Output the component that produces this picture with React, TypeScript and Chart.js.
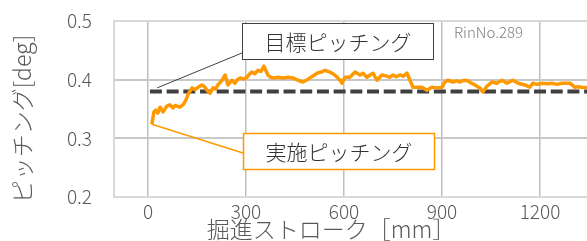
import React, { useEffect, useRef } from "react";
import { Chart, registerables } from "chart.js";

Chart.register(...registerables);

// ---- data ----
const strokeMm = [
  12, 18, 24, 30, 37, 46, 52, 58, 67, 77, 83, 89, 98, 107, 116, 122, 128, 135, 144, 153, 165,
  173, 181, 190, 199, 207, 214, 227, 236, 245, 257, 266, 274, 282, 292, 303, 310, 318, 327,
  337, 346, 355, 367, 375, 383, 398, 413, 429, 444, 459, 474, 485, 496, 507, 517, 530, 542,
  557, 572, 588, 594, 603, 618, 634, 649, 658, 670, 680, 689, 701, 716, 731, 740, 750, 760,
  771, 782, 793, 802, 811, 823, 839, 854, 869, 885, 900, 909, 918, 934, 945, 955, 967, 979,
  990, 1001, 1016, 1025, 1038, 1053, 1068, 1084, 1099, 1117, 1133, 1154, 1169, 1178, 1192,
  1206, 1222, 1237, 1252, 1267, 1292, 1307, 1318, 1328, 1344, 1360,
];
const actualPitch = [
  0.324, 0.345, 0.348, 0.343, 0.353, 0.345, 0.350, 0.355, 0.357, 0.352, 0.356, 0.355, 0.353,
  0.357, 0.365, 0.374, 0.380, 0.386, 0.383, 0.387, 0.391, 0.388, 0.382, 0.377, 0.386, 0.384,
  0.391, 0.399, 0.408, 0.391, 0.399, 0.394, 0.400, 0.403, 0.401, 0.404, 0.409, 0.413, 0.410,
  0.416, 0.414, 0.423, 0.408, 0.404, 0.403, 0.404, 0.403, 0.404, 0.403, 0.399, 0.396, 0.399,
  0.403, 0.407, 0.411, 0.413, 0.416, 0.413, 0.408, 0.399, 0.394, 0.404, 0.404, 0.413, 0.408,
  0.411, 0.404, 0.408, 0.411, 0.399, 0.408, 0.406, 0.404, 0.408, 0.405, 0.408, 0.406, 0.411,
  0.399, 0.387, 0.387, 0.387, 0.382, 0.387, 0.386, 0.387, 0.396, 0.399, 0.396, 0.398, 0.396,
  0.399, 0.398, 0.394, 0.391, 0.386, 0.379, 0.389, 0.396, 0.394, 0.399, 0.394, 0.399, 0.394,
  0.391, 0.387, 0.394, 0.392, 0.394, 0.393, 0.394, 0.392, 0.394, 0.394, 0.387, 0.388, 0.387,
  0.386, 0.385,
];
const targetStroke = [6, 1400];
const targetPitch = [0.38, 0.38];
const xTicks = [0, 300, 600, 900, 1200];
const yTicks = [0.2, 0.3, 0.4, 0.5];

const xTitle = "掘進ストローク［mm］";
const yTitle = "ピッチング[deg]";
const targetLabel = "目標ピッチング";
const actualLabel = "実施ピッチング";
const ringLabel = "RinNo.289";
const targetCallout = { x: 28, y: 0.386 };

const FONT = "'Noto Sans CJK JP', 'Noto Sans', sans-serif";
const ORANGE = "#FF9900";

const calloutPlugin = {
  id: "callouts",
  afterDatasetsDraw(chart: any) {
    const { ctx, scales } = chart;
    const xs = scales.x;
    const ys = scales.y;
    ctx.save();

    // target callout line + box
    const tx = xs.getPixelForValue(targetCallout.x);
    const ty = ys.getPixelForValue(targetCallout.y);
    ctx.strokeStyle = "#404040";
    ctx.lineWidth = 1;
    ctx.beginPath();
    ctx.moveTo(242, 53);
    ctx.lineTo(tx, ty);
    ctx.stroke();
    ctx.fillStyle = "#ffffff";
    ctx.fillRect(242, 23, 191, 36);
    ctx.strokeRect(242.5, 23.5, 191, 36);
    ctx.fillStyle = "#333333";
    ctx.font = `300 21px ${FONT}`;
    ctx.textAlign = "center";
    ctx.textBaseline = "middle";
    ctx.fillText(targetLabel, 338, 42);

    // actual callout line + box
    const ax = xs.getPixelForValue(strokeMm[0]);
    const ay = ys.getPixelForValue(actualPitch[0]);
    ctx.strokeStyle = ORANGE;
    ctx.lineWidth = 1.5;
    ctx.beginPath();
    ctx.moveTo(243, 153);
    ctx.lineTo(ax, ay);
    ctx.stroke();
    ctx.fillStyle = "#ffffff";
    ctx.fillRect(243, 133, 191, 36);
    ctx.strokeRect(243.5, 133.5, 191, 36);
    ctx.fillStyle = "#333333";
    ctx.fillText(actualLabel, 339, 152);

    // ring number
    ctx.fillStyle = "#808080";
    ctx.font = `300 15px ${FONT}`;
    ctx.textAlign = "left";
    ctx.fillText(ringLabel, 454, 32);

    // axis titles
    ctx.fillStyle = "#595959";
    ctx.font = `300 23px ${FONT}`;
    ctx.textAlign = "center";
    ctx.fillText(xTitle, 331, 229);
    ctx.save();
    ctx.translate(22, 119);
    ctx.rotate(-Math.PI / 2);
    ctx.fillText(yTitle, 0, 0);
    ctx.restore();

    ctx.restore();
  },
};

export default function App() {
  const ref = useRef<HTMLCanvasElement>(null);
  useEffect(() => {
    Chart.defaults.font.family = FONT;
    const chart = new Chart(ref.current!, {
      type: "line",
      data: {
        datasets: [
          {
            label: actualLabel,
            data: strokeMm.map((x, i) => ({ x, y: actualPitch[i] })),
            borderColor: ORANGE,
            borderWidth: 3.5,
            pointRadius: 0,
            borderJoinStyle: "round",
            tension: 0,
          },
          {
            label: targetLabel,
            data: targetStroke.map((x, i) => ({ x, y: targetPitch[i] })),
            borderColor: "#404040",
            borderWidth: 4,
            borderDash: [12, 4.7],
            pointRadius: 0,
          },
        ],
      },
      options: {
        responsive: false,
        animation: false,
        layout: { padding: { top: 21, left: 0, right: 0, bottom: 0 } },
        plugins: { legend: { display: false }, tooltip: { enabled: false } },
        scales: {
          x: {
            type: "linear",
            min: -104,
            max: 1344,
            afterBuildTicks: (s: any) => {
              s.ticks = xTicks.map((v) => ({ value: v }));
            },
            afterFit: (s: any) => {
              s.height = 44;
              s.paddingLeft = 0;
              s.paddingRight = 0;
            },
            ticks: {
              color: "#595959",
              font: { size: 19, weight: "300" },
              padding: 3,
              maxRotation: 0,
              callback: (v: any) => String(v),
            },
            grid: { color: "#bfbfbf", lineWidth: 1.5, drawTicks: false },
            border: { color: "#d9d9d9", width: 2 },
          },
          y: {
            type: "linear",
            min: 0.2,
            max: 0.5,
            afterBuildTicks: (s: any) => {
              s.ticks = yTicks.map((v) => ({ value: v }));
            },
            afterFit: (s: any) => {
              s.width = 114;
              s.paddingTop = 0;
              s.paddingBottom = 0;
            },
            ticks: {
              color: "#595959",
              font: { size: 19, weight: "300" },
              padding: 22,
              callback: (v: any) => Number(v).toFixed(1),
            },
            grid: {
              color: (c: any) => (c.tick && c.tick.value === 0.5 ? "#d9d9d9" : "#c8c8c8"),
              lineWidth: 2,
              drawTicks: false,
            },
            border: { color: "#d9d9d9", width: 2 },
          },
        },
      },
      plugins: [calloutPlugin],
    } as any);
    return () => chart.destroy();
  }, []);

  return (
    <div
      style={{
        position: "fixed",
        left: 0,
        top: 0,
        width: 587,
        height: 241,
        overflow: "hidden",
        background: "#ffffff",
      }}
    >
      <canvas ref={ref} width={587} height={241} style={{ display: "block", width: 587, height: 241 }} />
    </div>
  );
}
